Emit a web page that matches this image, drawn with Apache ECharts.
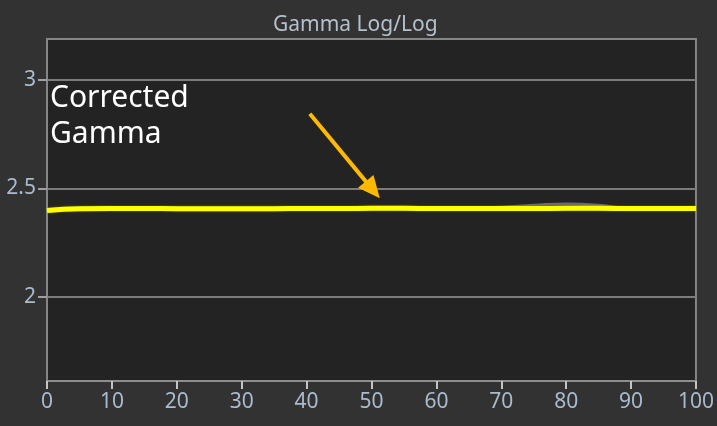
<!DOCTYPE html>
<html>
<head>
<meta charset="utf-8">
<script src="https://cdn.jsdelivr.net/npm/echarts@6/dist/echarts.min.js"></script>
<style>
  html, body { margin: 0; padding: 0; background: #323232; }
  #chart { width: 717px; height: 426px; }
</style>
</head>
<body>
<div id="chart"></div>
<script>
// 数据
var xValues = [0, 5, 10, 15, 20, 25, 30, 35, 40, 45, 50, 55, 60, 65, 70, 75, 80, 85, 90, 95, 100]
var correctedGamma = [2.398, 2.406, 2.407, 2.407, 2.406, 2.406, 2.406, 2.406, 2.407, 2.407, 2.408, 2.408, 2.407, 2.407, 2.407, 2.407, 2.408, 2.408, 2.407, 2.407, 2.407]
var measuredGamma = [2.398, 2.406, 2.407, 2.407, 2.405, 2.406, 2.406, 2.406, 2.407, 2.408, 2.409, 2.409, 2.408, 2.409, 2.413, 2.422, 2.428, 2.422, 2.406, 2.404, 2.407]
var yTicks = [2, 2.5, 3]
var xTicks = [0, 10, 20, 30, 40, 50, 60, 70, 80, 90, 100]
var arrowFrom = [40.5, 2.845]
var arrowTo = [50.2, 2.493]

var chart = echarts.init(document.getElementById('chart'))

function pairs (xs, ys) {
    return xs.map(function (x, i) { return [x, ys[i]] })
}

var labelColor = '#aabbcd'

var option = {
    backgroundColor: '#323232',
    animation: false,
    title: {
        text: 'Gamma Log/Log',
        left: 268,
        top: 10,
        textStyle: {
            color: '#b4c0cc',
            fontFamily: 'Noto Sans',
            fontWeight: 'normal',
            fontSize: 21
        }
    },
    grid: {
        left: 47,
        right: 20,
        top: 39,
        bottom: 45,
        show: true,
        backgroundColor: '#232323',
        borderColor: '#858585',
        borderWidth: 2
    },
    xAxis: {
        type: 'value',
        min: 0,
        max: 100,
        interval: 10,
        axisLine: { show: true, lineStyle: { color: '#8e8e8e', width: 2 } },
        axisTick: { show: true, length: 8, lineStyle: { color: '#c4c4c4', width: 2 } },
        axisLabel: {
            color: labelColor,
            fontFamily: 'Noto Sans',
            fontSize: 21,
            margin: 11,
            customValues: xTicks
        },
        splitLine: { show: false }
    },
    yAxis: {
        type: 'value',
        min: 1.61,
        max: 3.19,
        axisLine: { show: true, lineStyle: { color: '#858585', width: 2 } },
        axisTick: { show: true, length: 9, customValues: yTicks, lineStyle: { color: '#a0a0a0', width: 2 } },
        axisLabel: {
            color: labelColor,
            fontFamily: 'Noto Sans',
            fontSize: 21,
            margin: 11,
            customValues: yTicks
        },
        splitLine: { show: true, lineStyle: { color: '#7c7c7c', width: 2 } }
    },
    graphic: [
        {
            type: 'text',
            left: 50,
            top: 80,
            style: {
                text: 'Corrected\nGamma',
                fill: '#ffffff',
                font: '30px "Noto Sans"',
                lineHeight: 36
            }
        }
    ],
    series: [
        {
            name: 'measured',
            type: 'line',
            smooth: true,
            symbol: 'none',
            data: pairs(xValues, measuredGamma),
            lineStyle: { color: '#6c6c6c', width: 3 },
            z: 2
        },
        {
            name: 'corrected',
            type: 'line',
            smooth: true,
            symbol: 'none',
            data: pairs(xValues, correctedGamma),
            lineStyle: { color: '#ffff00', width: 5, shadowColor: 'rgba(150,150,0,0.8)', shadowBlur: 2 },
            z: 3,
            markLine: {
                silent: true,
                symbol: ['none', 'triangle'],
                symbolSize: [20, 22],
                label: { show: false },
                lineStyle: { color: '#ffb900', width: 4, type: 'solid' },
                data: [[{ coord: arrowFrom }, { coord: arrowTo }]]
            }
        }
    ]
}

chart.setOption(option)
</script>
</body>
</html>
